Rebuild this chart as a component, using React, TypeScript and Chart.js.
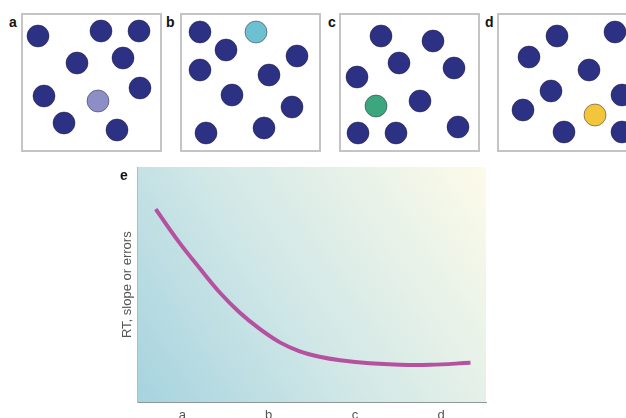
import React, { useEffect, useRef } from 'react';
import { Chart, registerables } from 'chart.js';

Chart.register(...registerables);

// ---- data ----
const panelLabels = ['a', 'b', 'c', 'd'];
const panelAX = [17, 80, 118, 56, 102, 23, 77, 119, 43, 96];
const panelAY = [23, 18, 18, 50, 45, 83, 88, 75, 110, 117];
const panelBX = [20, 76, 46, 117, 20, 89, 52, 112, 26, 84];
const panelBY = [19, 19, 37, 43, 57, 62, 82, 94, 120, 115];
const panelCX = [42, 94, 60, 115, 18, 81, 37, 19, 57, 119];
const panelCY = [23, 28, 50, 55, 64, 88, 93, 120, 120, 114];
const panelDX = [60, 118, 32, 92, 54, 125, 26, 98, 67, 125];
const panelDY = [23, 19, 44, 57, 78, 82, 97, 102, 119, 119];
const oddIndex = [6, 1, 6, 7];

const stageLabels = ['a', 'b', 'c', 'd'];
const curveX = [-0.31, -0.04, 0.2, 0.43, 0.66, 0.9, 1.13, 1.36, 1.59, 1.83, 2.17, 2.52, 2.87, 3.34];
const curveY = [82.1, 68.1, 57, 46.8, 38.3, 31.1, 25.5, 21.7, 19.4, 17.9, 16.6, 16, 16, 16.8];
const yTitle = 'RT, slope or errors';
const panelETitle = 'e';

// ---- styles ----
const FONT = "'Liberation Sans', Arial, Helvetica, sans-serif";
const NAVY = '#2c3183';
const ODD_COLORS = ['#8d8ec6', '#6cc0d0', '#3ca77c', '#f2c53a'];
const BOX_W = 141;
const BOX_H = 139;
const BOX_LEFTS = [21, 180, 339, 497];
const BOX_TOP = 13;
const LABEL_LEFTS = [9, 166, 328, 485];

const boxPlugin = {
  id: 'boxBorder',
  beforeDatasetsDraw(chart: any) {
    const { ctx, width, height } = chart;
    ctx.save();
    ctx.strokeStyle = '#c4c4c4';
    ctx.lineWidth = 2;
    ctx.strokeRect(1, 1, width - 2, height - 2);
    ctx.restore();
  },
};

const gradientPlugin = {
  id: 'bgGradient',
  beforeDraw(chart: any) {
    const { ctx, chartArea } = chart;
    if (!chartArea) return;
    const { left, top, right, bottom } = chartArea;
    const g = ctx.createLinearGradient(left, bottom, right, top);
    g.addColorStop(0, '#a6d3df');
    g.addColorStop(0.45, '#d2e8e7');
    g.addColorStop(1, '#fdfbe9');
    ctx.save();
    ctx.fillStyle = g;
    ctx.fillRect(left, top, right - left, bottom - top);
    ctx.restore();
  },
};

function Panel({ xs, ys, odd, oddColor, left, label, labelLeft }: any) {
  const ref = useRef<HTMLCanvasElement>(null);
  useEffect(() => {
    const pts = xs.map((x: number, i: number) => ({ x, y: ys[i] }));
    const colors = xs.map((_: number, i: number) => (i === odd ? oddColor : NAVY));
    const chart = new Chart(ref.current as HTMLCanvasElement, {
      type: 'scatter',
      data: {
        datasets: [
          {
            data: pts,
            pointRadius: 11,
            pointHoverRadius: 11,
            pointBackgroundColor: colors,
            pointBorderColor: 'rgba(20,20,50,0.45)',
            pointBorderWidth: 1,
            clip: false,
          },
        ],
      },
      options: {
        responsive: false,
        animation: false,
        events: [],
        layout: { padding: 0, autoPadding: false },
        plugins: { legend: { display: false }, tooltip: { enabled: false } },
        scales: {
          x: { type: 'linear', display: false, min: 0, max: BOX_W },
          y: { type: 'linear', display: false, min: 0, max: BOX_H, reverse: true },
        },
      } as any,
      plugins: [boxPlugin],
    });
    return () => chart.destroy();
  }, []);
  return (
    <>
      <canvas
        ref={ref}
        width={BOX_W}
        height={BOX_H}
        style={{ position: 'absolute', left, top: BOX_TOP, width: BOX_W, height: BOX_H }}
      />
      <span
        style={{
          position: 'absolute',
          left: labelLeft,
          top: 14,
          fontFamily: FONT,
          fontWeight: 900,
          fontSize: 14,
          lineHeight: '16px',
          color: '#111',
        }}
      >
        {label}
      </span>
    </>
  );
}

function MainChart() {
  const ref = useRef<HTMLCanvasElement>(null);
  useEffect(() => {
    const chart = new Chart(ref.current as HTMLCanvasElement, {
      type: 'line',
      data: {
        datasets: [
          {
            data: curveX.map((x, i) => ({ x, y: curveY[i] })),
            borderColor: '#b5519e',
            borderWidth: 4,
            pointRadius: 0,
            tension: 0.4,
            fill: false,
          },
        ],
      },
      options: {
        responsive: false,
        animation: false,
        events: [],
        layout: { padding: { left: 16, top: 7, right: 14, bottom: 4 } },
        plugins: { legend: { display: false }, tooltip: { enabled: false } },
        scales: {
          x: {
            type: 'linear',
            min: -0.52,
            max: 3.52,
            grid: { display: false, drawTicks: false },
            border: { display: true, color: '#8e9899', width: 1 },
            afterBuildTicks: (s: any) => {
              s.ticks = stageLabels.map((_, i) => ({ value: i }));
            },
            ticks: {
              padding: 5,
              color: '#555',
              font: { size: 13, family: FONT },
              callback: (v: any) => stageLabels[v] ?? '',
            },
          },
          y: {
            type: 'linear',
            min: 0,
            max: 100,
            grid: { display: false, drawTicks: false },
            border: { display: true, color: '#b3bcbe', width: 1 },
            ticks: { display: false },
            title: {
              display: true,
              text: yTitle,
              color: '#555',
              font: { size: 13, family: FONT },
              padding: { top: 4, bottom: 2 },
            },
          },
        },
      } as any,
      plugins: [gradientPlugin],
    });
    return () => chart.destroy();
  }, []);
  return (
    <>
      <canvas
        ref={ref}
        width={400}
        height={272}
        style={{ position: 'absolute', left: 100, top: 160, width: 400, height: 272 }}
      />
      <span
        style={{
          position: 'absolute',
          left: 120,
          top: 167,
          fontFamily: FONT,
          fontWeight: 900,
          fontSize: 14,
          lineHeight: '16px',
          color: '#111',
        }}
      >
        {panelETitle}
      </span>
    </>
  );
}

export default function App() {
  const xs = [panelAX, panelBX, panelCX, panelDX];
  const ys = [panelAY, panelBY, panelCY, panelDY];
  return (
    <div
      style={{
        position: 'fixed',
        left: 0,
        top: 0,
        width: 626,
        height: 418,
        overflow: 'hidden',
        background: '#fff',
      }}
    >
      {panelLabels.map((lab, i) => (
        <Panel
          key={lab}
          xs={xs[i]}
          ys={ys[i]}
          odd={oddIndex[i]}
          oddColor={ODD_COLORS[i]}
          left={BOX_LEFTS[i]}
          label={lab}
          labelLeft={LABEL_LEFTS[i]}
        />
      ))}
      <MainChart />
    </div>
  );
}
